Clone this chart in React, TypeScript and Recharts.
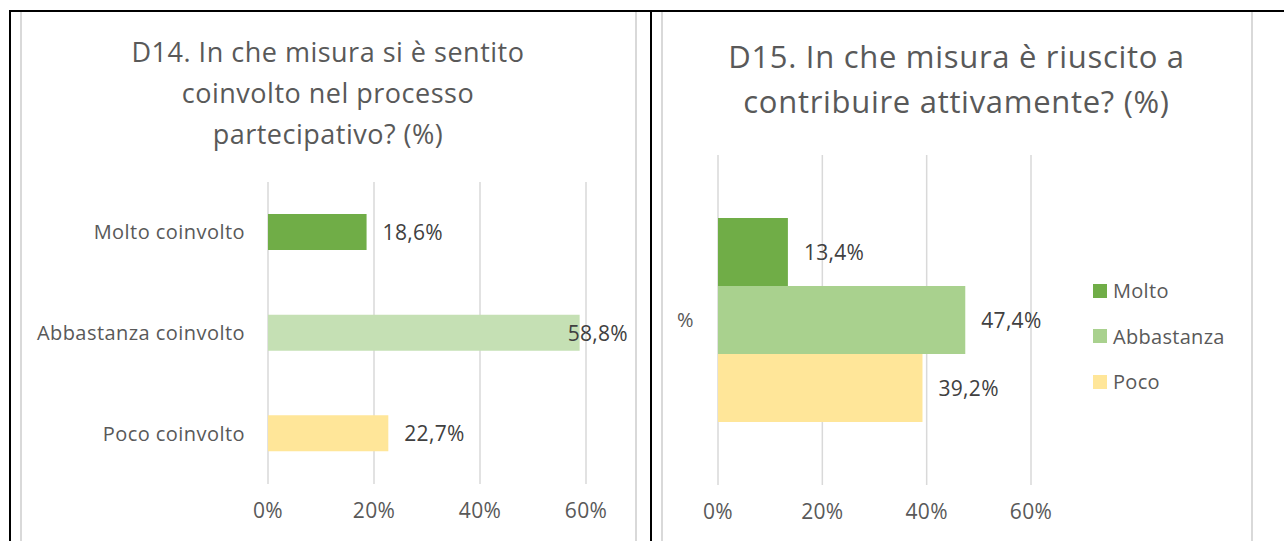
import React from 'react';
import { Bar, BarChart, CartesianGrid, Cell, XAxis, YAxis } from 'recharts';

const leftCategories = ['Molto coinvolto', 'Abbastanza coinvolto', 'Poco coinvolto'];
const leftValues = [18.6, 58.8, 22.7];
const leftColors = ['#70AD47', '#C5E0B4', '#FFE699'];

const rightCategories = ['%'];
const rightSeries = ['Molto', 'Abbastanza', 'Poco'];
const rightValues = [13.4, 47.4, 39.2];
const rightColors = ['#70AD47', '#A9D18E', '#FFE699'];

const xTicks = [0, 20, 40, 60];

const FONT = '"Open Sans", sans-serif';
const TEXT = '#595959';
const LABEL = '#404040';
const GRID = '#D9D9D9';

const X_TICK = { fontSize: 21, fill: TEXT, fontFamily: FONT, letterSpacing: 0.3 } as const;
const Y_TICK = { fontSize: 20, fill: TEXT, fontFamily: FONT, letterSpacing: 0.45 } as const;

const pct = (v: number) => `${v.toFixed(1).replace('.', ',')}%`;

function makeLabel(maxRight: number) {
  return function BarLabel(props: any) {
    const { x, y, width, height, value } = props;
    const est = 59;
    let tx = Number(x) + Number(width) + 16;
    let anchor: 'start' | 'end' = 'start';
    if (tx + est > maxRight) {
      tx = maxRight;
      anchor = 'end';
    }
    return (
      <text
        x={tx}
        y={Number(y) + Number(height) / 2}
        dominantBaseline="central"
        textAnchor={anchor}
        fontSize={21}
        letterSpacing={0.3}
        fontFamily={FONT}
        fill={LABEL}
      >
        {pct(Number(value))}
      </text>
    );
  };
}

// legend drawn next to the plot, outside the chart's layout
function RightLegend() {
  return (
    <div
      style={{
        position: 'absolute',
        left: 1093,
        top: 268,
        fontFamily: FONT,
        fontSize: 20,
        letterSpacing: 0.3,
        color: TEXT,
      }}
    >
      {rightSeries.map((name, i) => (
        <div key={name} style={{ display: 'flex', alignItems: 'center', height: 45.5 }}>
          <span style={{ width: 14, height: 14, background: rightColors[i], marginRight: 6 }} />
          <span>{name}</span>
        </div>
      ))}
    </div>
  );
}

const leftData = leftCategories.map((name, i) => ({ name, value: leftValues[i] }));
const rightData = rightCategories.map((name) => {
  const row: Record<string, string | number> = { name };
  rightSeries.forEach((s, i) => (row[s] = rightValues[i]));
  return row;
});

function Title({ lines, left, width, top, size, lineHeight, spacing }: any) {
  return (
    <div
      style={{
        position: 'absolute',
        left,
        top,
        width,
        textAlign: 'center',
        fontFamily: FONT,
        fontSize: size,
        letterSpacing: spacing,
        lineHeight: `${lineHeight}px`,
        color: TEXT,
      }}
    >
      {lines.map((l: string) => (
        <div key={l}>{l}</div>
      ))}
    </div>
  );
}

export default function App() {
  const line = (s: React.CSSProperties) => <div style={{ position: 'absolute', ...s }} />;
  return (
    <div
      style={{
        position: 'absolute',
        left: 0,
        top: 0,
        width: 1284,
        height: 541,
        background: '#fff',
        overflow: 'hidden',
      }}
    >
      {/* table borders */}
      {line({ left: 9, top: 10, width: 1275, height: 2, background: '#000' })}
      {line({ left: 9, top: 10, width: 2, height: 531, background: '#000' })}
      {line({ left: 650, top: 10, width: 2, height: 531, background: '#000' })}
      {/* chart frames */}
      {line({ left: 20, top: 12, width: 1.5, height: 529, background: GRID })}
      {line({ left: 635, top: 12, width: 1.5, height: 529, background: GRID })}
      {line({ left: 661, top: 12, width: 1.5, height: 529, background: GRID })}
      {line({ left: 1251, top: 12, width: 1.5, height: 529, background: GRID })}

      <Title
        lines={['D14. In che misura si è sentito', 'coinvolto nel processo', 'partecipativo? (%)']}
        left={20}
        width={616}
        top={31}
        size={27}
        spacing={0.5}
        lineHeight={41}
      />
      <Title
        lines={['D15. In che misura è riuscito a', 'contribuire attivamente? (%)']}
        left={661}
        width={591}
        top={34}
        size={31}
        spacing={0.7}
        lineHeight={45}
      />

      <div style={{ position: 'absolute', left: 20, top: 12 }}>
        <BarChart
          width={616}
          height={529}
          data={leftData}
          layout="vertical"
          margin={{ top: 170, right: 50, bottom: 17, left: 0 }}
        >
          <CartesianGrid horizontal={false} stroke={GRID} strokeWidth={1.5} />
          <XAxis
            type="number"
            domain={[0, 60]}
            ticks={xTicks}
            tickFormatter={(v: number) => `${v}%`}
            tick={X_TICK}
            axisLine={false}
            tickLine={false}
            tickMargin={13}
            height={40}
          />
          <YAxis
            type="category"
            dataKey="name"
            width={248}
            tick={Y_TICK}
            axisLine={false}
            tickLine={false}
            tickMargin={17}
          />
          <Bar dataKey="value" barSize={36} isAnimationActive={false} label={makeLabel(608)}>
            {leftData.map((d, i) => (
              <Cell key={d.name} fill={leftColors[i]} />
            ))}
          </Bar>
        </BarChart>
      </div>

      <div style={{ position: 'absolute', left: 661, top: 12 }}>
        <BarChart
          width={591}
          height={529}
          data={rightData}
          layout="vertical"
          barGap={0}
          margin={{ top: 143, right: 221, bottom: 16, left: 0 }}
        >
          <CartesianGrid horizontal={false} stroke={GRID} strokeWidth={1.5} />
          <XAxis
            type="number"
            domain={[0, 60]}
            ticks={xTicks}
            tickFormatter={(v: number) => `${v}%`}
            tick={X_TICK}
            axisLine={false}
            tickLine={false}
            tickMargin={13}
            height={40}
          />
          <YAxis
            type="category"
            dataKey="name"
            width={57}
            tick={Y_TICK}
            axisLine={false}
            tickLine={false}
            tickMargin={18}
          />
          {rightSeries.map((s, i) => (
            <Bar
              key={s}
              dataKey={s}
              name={s}
              fill={rightColors[i]}
              barSize={68}
              isAnimationActive={false}
              label={makeLabel(585)}
            />
          ))}
        </BarChart>
      </div>
      <RightLegend />
    </div>
  );
}
